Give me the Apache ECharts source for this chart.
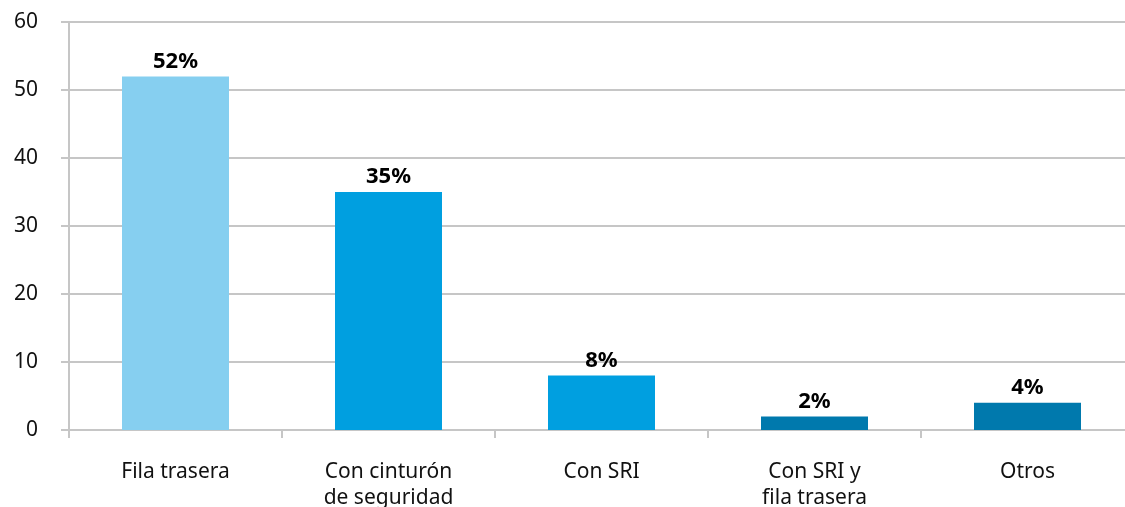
<!DOCTYPE html>
<html>
<head>
<meta charset="utf-8">
<script src="https://cdn.jsdelivr.net/npm/echarts@6/dist/echarts.min.js"></script>
<style>
  html, body { margin: 0; padding: 0; background: #fff; }
  #chart { width: 1125px; height: 507px; }
</style>
</head>
<body>
<div id="chart"></div>
<script>
// Categories and values (percent)
const categories = ['Fila trasera', 'Con cinturón\nde seguridad', 'Con SRI', 'Con SRI y\nfila trasera', 'Otros'];
const values = [52, 35, 8, 2, 4];
const barColors = ['#86CFF0', '#009FE0', '#009FE0', '#0079AD', '#0079AD'];
const yTicks = { min: 0, max: 60, interval: 10 };

const fontFamily = '"Noto Sans", "Open Sans", sans-serif';
const gridColor = '#C6C6C6';

const chart = echarts.init(document.getElementById('chart'), null, { renderer: 'canvas' });
chart.setOption({
  animation: false,
  backgroundColor: '#fff',
  grid: { left: 69, top: 22, right: -9, bottom: 77, containLabel: false, outerBoundsMode: 'none' },
  xAxis: {
    type: 'category',
    data: categories,
    boundaryGap: true,
    axisLine: { show: true, lineStyle: { color: gridColor, width: 2 } },
    axisTick: { show: true, length: 8, alignWithLabel: false, lineStyle: { color: gridColor, width: 2 } },
    axisLabel: {
      interval: 0, margin: 29, color: '#111', fontFamily, fontSize: 21, lineHeight: 26
    }
  },
  yAxis: {
    type: 'value',
    min: yTicks.min, max: yTicks.max, interval: yTicks.interval,
    axisLine: { show: true, lineStyle: { color: gridColor, width: 2 } },
    axisTick: { show: true, length: 8, lineStyle: { color: gridColor, width: 2 } },
    splitLine: { show: true, lineStyle: { color: gridColor, width: 2 } },
    axisLabel: { margin: 31, color: '#111', fontFamily, fontSize: 21 }
  },
  series: [{
    type: 'bar',
    barWidth: 107,
    data: values.map((v, i) => ({ value: v, itemStyle: { color: barColors[i] } })),
    label: {
      show: true, position: 'top', distance: 4,
      formatter: p => p.value + '%',
      color: '#000', fontFamily, fontWeight: 'bold', fontSize: 22
    }
  }]
});
</script>
</body>
</html>
